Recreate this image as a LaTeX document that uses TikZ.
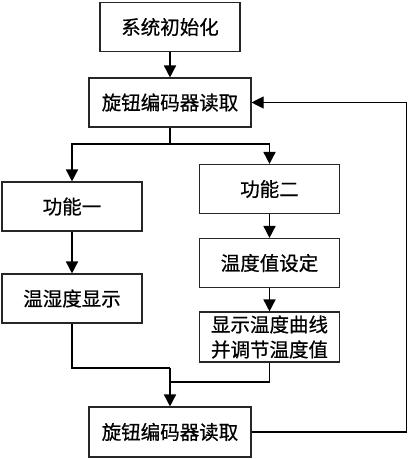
\documentclass[tikz,border=0pt]{standalone}
\usepackage{fontspec}
\newfontfamily\cjk[FakeBold=0.6]{Noto Sans CJK SC}
\usetikzlibrary{arrows.meta}
\begin{document}
\begin{tikzpicture}[x=1pt,y=-1pt]
\useasboundingbox (0,0) rectangle (408,459);
\tikzset{
  box/.style={draw=black!85, line width=1.1pt, inner sep=0pt, align=center,
    font=\cjk\fontsize{19.5}{25}\selectfont},
  narrow/.style={minimum width=140pt, minimum height=49pt},
  wide/.style={minimum width=162pt, minimum height=49pt},
  conn/.style={line width=1.5pt, -{Triangle[length=12pt,width=12pt]}},
  plain/.style={line width=1.5pt},
  back/.style={line width=1.1pt, -{Triangle[length=12pt,width=12pt]}}
}
\node[box, narrow] (b1) at (170,27) {系统初始化};
\node[box, wide] (b2) at (170,102.5) {旋钮编码器读取};
\node[box, narrow] (b3) at (72,206.5) {功能一};
\node[box, narrow] (b4) at (72,298.5) {温湿度显示};
\node[box, narrow] (b5) at (269.5,189) {功能二};
\node[box, narrow] (b6) at (269.5,263) {温度值设定};
\node[box, narrow, minimum height=50pt] (b7) at (269.5,337) {显示温度曲线\\并调节温度值};
\node[box, wide, minimum height=50pt] (b8) at (170,432) {旋钮编码器读取};

\coordinate (j1) at (170,144);
\coordinate (j2) at (170,368);
\coordinate (j3) at (170,382);
\coordinate (r1) at (406.5,432);
\coordinate (r2) at (406.5,102.5);

\draw[conn] (b1.south) -- (b2.north);
\draw[plain] (b2.south) -- (j1);
\draw[conn] (j1) -| (b3.north);
\draw[conn] (j1) -| (b5.north);
\draw[conn] (b3.south) -- (b4.north);
\draw[conn] (b5.south) -- (b6.north);
\draw[conn] (b6.south) -- (b7.north);
\draw[plain] (b4.south) |- (j2);
\draw[plain] (b7.south) |- (j3);
\draw[conn] (j2) -- (b8.north);
\draw[back] (b8.east) -- (r1) -- (r2) -- (b2.east);
\end{tikzpicture}
\end{document}
